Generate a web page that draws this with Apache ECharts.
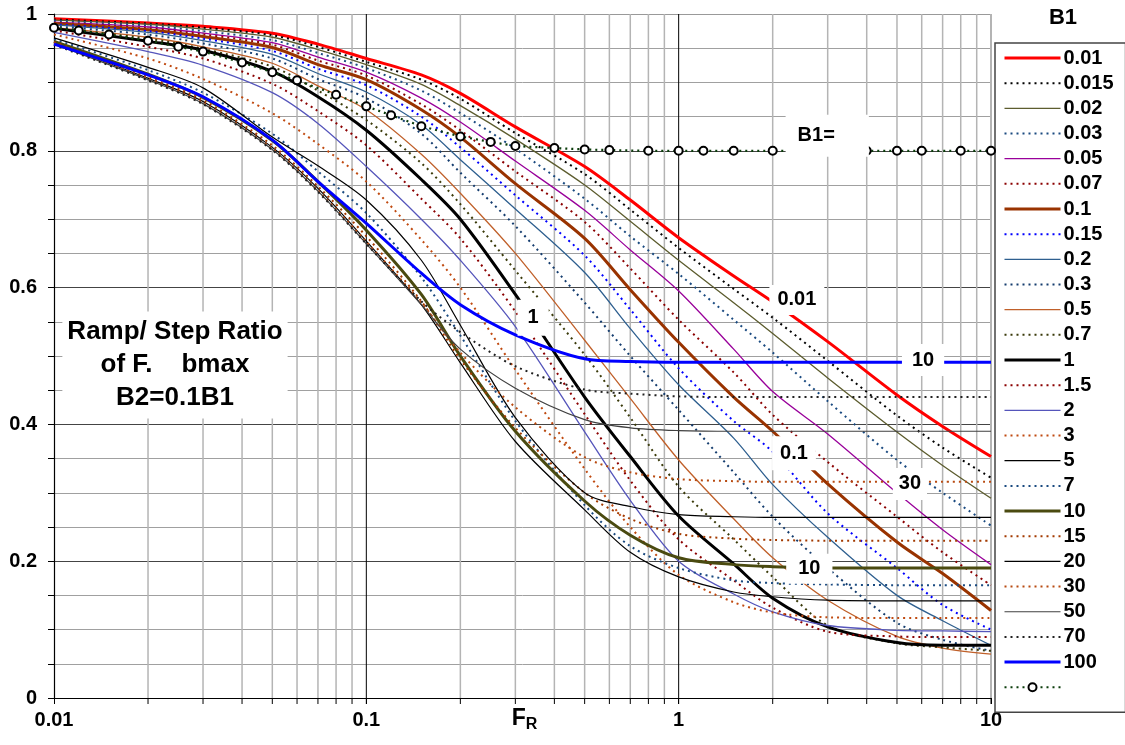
<!DOCTYPE html>
<html>
<head>
<meta charset="utf-8">
<script src="https://cdn.jsdelivr.net/npm/echarts@6/dist/echarts.min.js"></script>
<style>
  html, body { margin: 0; padding: 0; background: #fff; overflow: hidden; }
  #chart { width: 1125px; height: 745px; }
</style>
</head>
<body>
<div id="chart"></div>
<script>
// Ramp / step ratio of F_bmax against F_R, one curve per B1 (B2 = 0.1 B1)
const FR = [0.01, 0.02, 0.03, 0.05, 0.07, 0.1, 0.15, 0.2, 0.3, 0.5, 0.7, 1, 1.5, 2, 3, 5, 7, 10];

const b1_0_01  = [0.993,0.987,0.982,0.972,0.956,0.935,0.911,0.884,0.835,0.777,0.728,0.673,0.617,0.579,0.521,0.443,0.397,0.353];
const b1_0_015 = [0.992,0.986,0.980,0.969,0.952,0.930,0.904,0.876,0.826,0.766,0.714,0.658,0.598,0.556,0.493,0.413,0.366,0.322];
const b1_0_02  = [0.991,0.985,0.978,0.966,0.948,0.926,0.897,0.866,0.817,0.750,0.697,0.640,0.578,0.533,0.468,0.389,0.340,0.292];
const b1_0_03  = [0.990,0.983,0.975,0.962,0.943,0.921,0.888,0.855,0.803,0.730,0.675,0.620,0.553,0.505,0.434,0.348,0.300,0.252];
const b1_0_05  = [0.988,0.981,0.972,0.958,0.937,0.915,0.877,0.842,0.785,0.713,0.655,0.595,0.510,0.448,0.386,0.300,0.246,0.195];
const b1_0_07  = [0.987,0.979,0.970,0.955,0.932,0.910,0.868,0.830,0.770,0.696,0.628,0.553,0.476,0.414,0.345,0.265,0.213,0.165];
const b1_0_1   = [0.986,0.977,0.967,0.951,0.926,0.904,0.860,0.820,0.752,0.672,0.597,0.520,0.440,0.390,0.313,0.228,0.182,0.128];
const b1_0_15  = [0.985,0.975,0.964,0.946,0.920,0.896,0.850,0.805,0.735,0.647,0.568,0.482,0.405,0.360,0.270,0.190,0.136,0.100];
const b1_0_2   = [0.984,0.973,0.961,0.941,0.913,0.886,0.838,0.787,0.715,0.622,0.540,0.458,0.380,0.312,0.235,0.150,0.113,0.077];
const b1_0_3   = [0.982,0.970,0.957,0.935,0.905,0.877,0.825,0.768,0.690,0.578,0.500,0.421,0.330,0.265,0.190,0.110,0.085,0.069];
const b1_0_5   = [0.980,0.966,0.952,0.928,0.895,0.860,0.795,0.738,0.650,0.523,0.438,0.348,0.262,0.205,0.143,0.090,0.073,0.064];
const b1_0_7   = [0.979,0.964,0.949,0.923,0.888,0.845,0.782,0.722,0.625,0.502,0.410,0.309,0.232,0.177,0.106,0.080,0.074,0.069];
const b1_1     = [0.979,0.960,0.947,0.916,0.879,0.830,0.758,0.700,0.590,0.440,0.353,0.266,0.196,0.146,0.104,0.081,0.077,0.077];
const b1_1_5   = [0.976,0.952,0.935,0.898,0.858,0.808,0.730,0.672,0.565,0.415,0.318,0.232,0.172,0.132,0.097,0.090,0.089,0.089];
const b1_2     = [0.973,0.945,0.925,0.885,0.840,0.777,0.700,0.640,0.543,0.389,0.289,0.200,0.152,0.126,0.106,0.099,0.098,0.097];
const b1_3     = [0.970,0.935,0.905,0.855,0.810,0.755,0.670,0.600,0.480,0.335,0.250,0.180,0.140,0.125,0.118,0.117,0.117,0.117];
const b1_5     = [0.958,0.906,0.872,0.805,0.745,0.668,0.575,0.490,0.375,0.275,0.213,0.177,0.155,0.148,0.143,0.142,0.142,0.142];
const b1_7     = [0.963,0.918,0.885,0.825,0.770,0.709,0.615,0.530,0.405,0.282,0.222,0.190,0.172,0.168,0.166,0.165,0.165,0.165];
const b1_10    = [0.960,0.912,0.878,0.815,0.755,0.684,0.590,0.500,0.390,0.288,0.238,0.205,0.195,0.192,0.190,0.190,0.190,0.190];
const b1_15    = [0.959,0.908,0.874,0.808,0.748,0.675,0.580,0.495,0.395,0.300,0.262,0.240,0.233,0.231,0.230,0.230,0.230,0.230];
const b1_20    = [0.965,0.922,0.892,0.820,0.778,0.728,0.640,0.545,0.410,0.300,0.280,0.268,0.265,0.264,0.264,0.264,0.264,0.264];
const b1_30    = [0.957,0.905,0.870,0.803,0.742,0.667,0.578,0.505,0.425,0.352,0.330,0.320,0.317,0.316,0.316,0.316,0.316,0.316];
const b1_50    = [0.956,0.904,0.869,0.802,0.741,0.664,0.575,0.510,0.453,0.407,0.395,0.391,0.390,0.390,0.390,0.390,0.390,0.390];
const b1_70    = [0.955,0.903,0.868,0.801,0.740,0.664,0.580,0.535,0.485,0.451,0.445,0.441,0.440,0.440,0.440,0.440,0.440,0.440];
const b1_100   = [0.956,0.911,0.879,0.816,0.755,0.694,0.621,0.575,0.531,0.496,0.492,0.491,0.491,0.491,0.491,0.491,0.491,0.491];

// circle-marked reference curve
const FR_ref = [0.01,0.012,0.015,0.02,0.025,0.03,0.04,0.05,0.06,0.08,0.1,0.12,0.15,0.2,0.25,0.3,0.4,0.5,0.6,0.8,1,1.2,1.5,2,2.5,3,4,5,6,8,10];
const ref    = [0.980,0.976,0.970,0.961,0.952,0.945,0.929,0.915,0.903,0.882,0.865,0.852,0.836,0.821,0.813,0.807,0.804,0.802,0.801,0.800,0.800,0.800,0.800,0.800,0.800,0.800,0.800,0.800,0.800,0.800,0.800];

// axis ticks / grid positions
const xMinor = [0.02,0.03,0.04,0.05,0.06,0.07,0.08,0.09,0.2,0.3,0.4,0.5,0.6,0.7,0.8,0.9,2,3,4,5,6,7,8,9];
const xMajor = [0.1, 1];
const xEdge = [10];

const DOT = [2, 4];
const curves = [
  { name: '0.01',  data: b1_0_01,  color: '#ff0000', width: 3 },
  { name: '0.015', data: b1_0_015, color: '#000000', width: 2, dash: DOT },
  { name: '0.02',  data: b1_0_02,  color: '#5c5c2e', width: 1.3 },
  { name: '0.03',  data: b1_0_03,  color: '#1a4a80', width: 2, dash: DOT },
  { name: '0.05',  data: b1_0_05,  color: '#99009a', width: 1.3 },
  { name: '0.07',  data: b1_0_07,  color: '#8b0000', width: 2, dash: DOT },
  { name: '0.1',   data: b1_0_1,   color: '#993300', width: 3 },
  { name: '0.15',  data: b1_0_15,  color: '#0000ff', width: 2, dash: DOT },
  { name: '0.2',   data: b1_0_2,   color: '#2e5f8f', width: 1.3 },
  { name: '0.3',   data: b1_0_3,   color: '#143c6e', width: 2, dash: DOT },
  { name: '0.5',   data: b1_0_5,   color: '#c0602a', width: 1.3 },
  { name: '0.7',   data: b1_0_7,   color: '#3a3a0a', width: 2, dash: DOT },
  { name: '1',     data: b1_1,     color: '#000000', width: 3 },
  { name: '1.5',   data: b1_1_5,   color: '#8b0000', width: 2, dash: DOT },
  { name: '2',     data: b1_2,     color: '#5555bb', width: 1.3 },
  { name: '3',     data: b1_3,     color: '#c04a10', width: 2, dash: DOT },
  { name: '5',     data: b1_5,     color: '#000000', width: 1.2 },
  { name: '7',     data: b1_7,     color: '#1a4a80', width: 2, dash: DOT },
  { name: '10',    data: b1_10,    color: '#4a4a10', width: 3 },
  { name: '15',    data: b1_15,    color: '#a33a00', width: 2, dash: DOT },
  { name: '20',    data: b1_20,    color: '#000000', width: 1.2 },
  { name: '30',    data: b1_30,    color: '#b84a10', width: 2, dash: DOT },
  { name: '50',    data: b1_50,    color: '#404040', width: 1.2 },
  { name: '70',    data: b1_70,    color: '#202020', width: 2, dash: DOT },
  { name: '100',   data: b1_100,   color: '#0000ff', width: 3 }
];

const FONT = 'Liberation Sans, Arial, sans-serif';

const series = curves.map(c => ({
  name: c.name,
  type: 'line',
  data: FR.map((x, i) => [x, c.data[i]]),
  showSymbol: false,
  symbol: 'none',
  smooth: 0.3,
  z: 3,
  color: c.color,
  lineStyle: { color: c.color, width: c.width, type: c.dash || 'solid' },
  emphasis: { disabled: true },
  silent: true
}));

series.push({
  name: ' ',
  type: 'line',
  data: FR_ref.map((x, i) => [x, ref[i]]),
  symbol: 'emptyCircle',
  symbolSize: 8,
  showSymbol: true,
  z: 4,
  color: '#000',
  itemStyle: { color: '#000', borderColor: '#000', borderWidth: 1.2 },
  lineStyle: { color: '#0b3d0b', width: 2.2, type: DOT },
  emphasis: { disabled: true },
  silent: true
});

// vertical grid lines and the tick marks below the F_R axis
function gridItem(color, width) {
  return function (params, api) {
    const x = api.value(0);
    const top = api.coord([x, 1]);
    const bot = api.coord([x, 0]);
    return {
      type: 'group',
      children: [
        { type: 'line', shape: { x1: top[0], y1: top[1], x2: bot[0], y2: bot[1] },
          style: { stroke: color, lineWidth: width } },
        { type: 'line', shape: { x1: bot[0], y1: bot[1], x2: bot[0], y2: bot[1] + 6 },
          style: { stroke: '#000', lineWidth: 1 } }
      ]
    };
  };
}
series.push({ type: 'custom', name: 'gridMinor', data: xMinor.map(v => [v, 0]), renderItem: gridItem('#b4b4b4', 1.5), z: 1, silent: true });
series.push({ type: 'custom', name: 'gridMajor', data: xMajor.map(v => [v, 0]), renderItem: gridItem('#000000', 1), z: 1, silent: true });
series.push({ type: 'custom', name: 'gridEdge',  data: xEdge.map(v => [v, 0]),  renderItem: gridItem('#b4b4b4', 2), z: 1, silent: true });

const legendData = curves.map(c => ({ name: c.name, itemStyle: { opacity: 0 } }));
legendData.push({ name: ' ' });

const chart = echarts.init(document.getElementById('chart'), null, { renderer: 'canvas' });

chart.setOption({
  animation: false,
  backgroundColor: '#ffffff',
  grid: { left: 54, right: 134, top: 14, bottom: 47, containLabel: false, outerBoundsMode: 'none' },
  xAxis: {
    type: 'log', logBase: 10, min: 0.01, max: 10,
    axisLine: { show: true, lineStyle: { color: '#000', width: 1.2 } },
    axisTick: { show: true, inside: false, length: 6, lineStyle: { color: '#000' } },
    axisLabel: {
      margin: 12, fontFamily: FONT, fontWeight: 'bold', fontSize: 20, color: '#000',
      formatter: v => String(+Number(v).toPrecision(3))
    },
    splitLine: { show: false },
    minorTick: { show: false }
  },
  yAxis: {
    type: 'value', min: 0, max: 1, interval: 0.2,
    axisLine: { show: true, lineStyle: { color: '#000', width: 1.2 } },
    axisTick: { show: true, inside: false, length: 6, lineStyle: { color: '#000' } },
    minorTick: { show: true, splitNumber: 4, length: 6, lineStyle: { color: '#000' } },
    axisLabel: {
      margin: 17, fontFamily: FONT, fontWeight: 'bold', fontSize: 20, color: '#000',
      formatter: v => String(+Number(v).toFixed(1)).replace(/^1\.0$/, '1')
    },
    splitLine: { show: true, lineStyle: { color: ['#444', '#444', '#444', '#444', '#444', '#999'], width: 1.2 } },
    minorSplitLine: { show: true, lineStyle: { color: '#a0a0a0', width: 1 } }
  },
  legend: {
    data: legendData,
    orient: 'vertical',
    left: 995, top: 43,
    padding: [5, 12, 15, 8],
    itemWidth: 56, itemHeight: 10, itemGap: 5.17,
    borderColor: '#444', borderWidth: 1.5,
    backgroundColor: '#fff',
    selectedMode: false,
    lineStyle: { width: 'inherit' },
    textStyle: { fontFamily: FONT, fontWeight: 'bold', fontSize: 20, color: '#000', padding: [0, 0, 0, -2] }
  },
  series: series
});

// boxed annotations anchored at data coordinates
const notes = [
  { x: 2.99, y: 0.822, text: 'B1=', pad: [11, 34, 11, 12] },
  { x: 2.39, y: 0.582, text: '0.01', pad: [5, 8, 5, 8] },
  { x: 6.06, y: 0.494, text: '10', pad: [6, 10, 6, 10] },
  { x: 0.342, y: 0.556, text: '1', pad: [8, 10, 8, 10] },
  { x: 2.34, y: 0.358, text: '0.1', pad: [7, 8, 7, 8] },
  { x: 5.5, y: 0.313, text: '30', pad: [6, 6, 6, 6] },
  { x: 2.62, y: 0.189, text: '10', pad: [5, 12, 5, 12] }
];
const graphics = notes.map(n => {
  const p = chart.convertToPixel({ gridIndex: 0 }, [n.x, n.y]);
  return {
    type: 'text', x: p[0], y: p[1], z: 50, silent: true,
    style: {
      text: n.text, fill: '#000', font: 'bold 20px ' + FONT,
      align: 'center', verticalAlign: 'middle',
      backgroundColor: '#fff', padding: n.pad
    }
  };
});
const tb = chart.convertToPixel({ gridIndex: 0 }, [0.0244, 0.487]);
graphics.push({
  type: 'text', x: tb[0], y: tb[1], z: 50, silent: true,
  style: {
    text: 'Ramp/ Step Ratio\nof F.    bmax\nB2=0.1B1',
    fill: '#000', font: 'bold 26px ' + FONT, lineHeight: 33,
    align: 'center', verticalAlign: 'middle',
    backgroundColor: '#fff', padding: [4, 5, 4, 5]
  }
});
// axis title F_R, centred under the middle of the log axis
const xt = chart.convertToPixel({ gridIndex: 0 }, [Math.sqrt(0.01 * 10), 0]);
graphics.push({
  type: 'text', x: xt[0] + 2, y: xt[1] + 21, z: 50, silent: true,
  style: {
    text: '{f|F}{r|R}', align: 'center', verticalAlign: 'middle',
    rich: {
      f: { font: 'bold 23px ' + FONT, fill: '#000' },
      r: { font: 'bold 16px ' + FONT, fill: '#000', padding: [12, 0, 0, 0] }
    }
  }
});
graphics.push({
  type: 'text', x: 1063, y: 18, z: 50, silent: true,
  style: { text: 'B1', fill: '#000', font: 'bold 22px ' + FONT, align: 'center', verticalAlign: 'middle' }
});
chart.setOption({ graphic: graphics });
</script>
</body>
</html>
